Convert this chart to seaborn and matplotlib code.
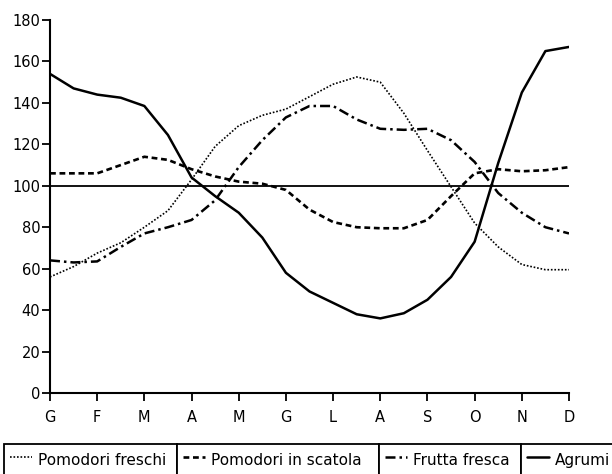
import numpy as np
import pandas as pd
import seaborn as sns
import matplotlib.pyplot as plt

# mesi sull'asse x
mesi = ["G", "F", "M", "A", "M", "G", "L", "A", "S", "O", "N", "D"]
# letture ogni mezzo mese, da G a D
posizioni = np.arange(0, 11.5, 0.5)

pomodori_freschi = [56, 61, 67.5, 72.5, 80, 88, 103, 119, 129, 134, 137, 143,
                    149, 152.5, 150, 135, 117, 99.5, 82, 70.5, 62, 59.5, 59.5]
pomodori_scatola = [106, 106, 106, 110, 114, 112.5, 108, 104.5, 102, 101, 98, 88.5,
                    82.5, 80, 79.5, 79.5, 83.5, 95, 106, 108, 107, 107.5, 109]
frutta_fresca = [64, 63, 63.5, 70.5, 77, 80, 83.5, 93, 109, 122, 133, 138.5,
                 138.5, 132, 127.5, 127, 127.5, 122, 111.5, 96.5, 87, 80, 77]
agrumi = [154, 147, 144, 142.5, 138.5, 124.5, 104, 95, 87, 75, 58, 49,
          43.5, 38, 36, 38.5, 45, 56, 73, 111, 145, 165, 167]

nomi = ["Pomodori freschi", "Pomodori in scatola", "Frutta fresca", "Agrumi"]
serie = [pomodori_freschi, pomodori_scatola, frutta_fresca, agrumi]
stili = [(0, (1, 1.1)), (0, (2.2, 1.4)), (0, (4, 1.6, 1, 1.6)), "-"]
spessori = [1.2, 1.9, 1.8, 1.8]

sns.set_style("ticks")
plt.rcParams["font.family"] = ["DejaVu Sans"]
plt.rcParams["font.size"] = 10
plt.rcParams["text.color"] = "black"

fig = plt.figure(figsize=(6.12, 4.74), dpi=100)
ax = fig.add_axes([50 / 612, 81 / 474, 519 / 612, 373 / 474])

linee = []
for nome, valori, stile, lw in zip(nomi, serie, stili, spessori):
    df = pd.DataFrame({"mese": posizioni, "indice": valori})
    sns.lineplot(data=df, x="mese", y="indice", ax=ax, color="black",
                 linewidth=lw, legend=False)
    linea = ax.lines[-1]
    linea.set_linestyle(stile)
    linee.append(linea)

ax.axhline(100, color="black", linewidth=1.3)

ax.set_xlim(0, 11)
ax.set_ylim(0, 180)
ax.set_xticks(range(12))
ax.set_xticklabels(mesi)
ax.set_yticks(range(0, 181, 20))
ax.set_xlabel("")
ax.set_ylabel("")
sns.despine(ax=ax)
for s in ["left", "bottom"]:
    ax.spines[s].set_linewidth(1.5)
    ax.spines[s].set_color("black")
ax.tick_params(axis="both", direction="out", length=6, width=1.3, colors="black", labelsize=10.5)
ax.tick_params(axis="x", pad=6)
ax.tick_params(axis="y", pad=1)

# legenda a caselle
caselle = [(4, 177), (177, 379), (379, 521), (521, 640)]
for linea, nome, (x0, x1) in zip(linee, nomi, caselle):
    leg = fig.legend([linea], [nome], loc="center", mode="expand",
                     bbox_to_anchor=(x0 / 612, 14 / 474, (x1 - x0) / 612, 0),
                     bbox_transform=fig.transFigure, fancybox=False,
                     edgecolor="black", framealpha=1, borderpad=0.38,
                     borderaxespad=0, handlelength=1.45, handleheight=1.75,
                     handletextpad=0.4, fontsize=11, labelcolor="black")
    leg.get_frame().set_linewidth(1.3)

fig.savefig("out.png", dpi=100)
